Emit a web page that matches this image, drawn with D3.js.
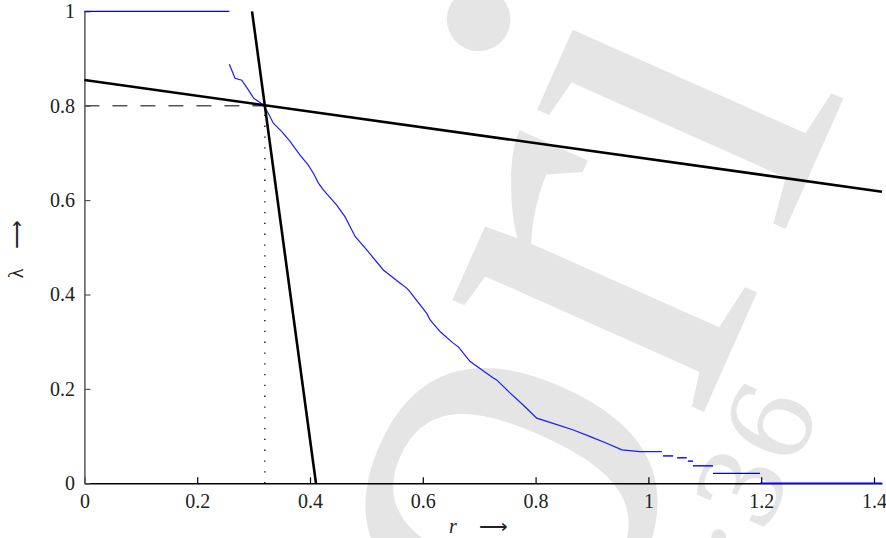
<!DOCTYPE html>
<html>
<head>
<meta charset="utf-8">
<script src="https://cdn.jsdelivr.net/npm/d3@7"></script>
<style>
  html, body { margin: 0; padding: 0; background: #fff; }
  svg { display: block; }
</style>
</head>
<body>
<svg id="chart" width="886" height="538"></svg>
<script>
// ---------- data ----------
const xTicks = [0, 0.2, 0.4, 0.6, 0.8, 1, 1.2, 1.4];
const yTicks = [0, 0.2, 0.4, 0.6, 0.8, 1];
const xMax = Math.SQRT2;

// upper flat part of the empirical curve
const topStepX = [0, 0.257];
const topStepY = 1;

// main (jagged) part of the empirical curve
const curveX = [0.257,0.267,0.279,0.291,0.300,0.317,0.326,0.335,0.350,0.365,0.382,0.397,0.406,0.415,0.424,0.447,0.462,0.480,0.501,0.530,0.560,0.572,0.577,0.607,0.613,0.631,0.654,0.663,0.684,0.725,0.731,0.755,0.778,0.802,0.831,0.867,0.897,0.926,0.953,0.985,1.024];
const curveY = [0.888,0.858,0.854,0.833,0.816,0.802,0.784,0.763,0.745,0.724,0.696,0.674,0.657,0.636,0.621,0.590,0.565,0.523,0.494,0.452,0.424,0.413,0.406,0.360,0.346,0.321,0.297,0.289,0.258,0.223,0.219,0.191,0.166,0.138,0.127,0.113,0.099,0.085,0.071,0.067,0.067];

// tail steps (horizontal pieces only)
const tailStart = [1.026, 1.051, 1.070, 1.079, 1.1145, 1.198];
const tailEnd   = [1.044, 1.068, 1.079, 1.1145, 1.198, 1.4142];
const tailY     = [0.058, 0.054, 0.047, 0.037, 0.021, 0.0];

// the two straight lines
const steepLine = { x0: 0.2972, y0: 1, x1: 0.4106, y1: 0 };
const flatLine  = { x0: 0, y0: 0.8545, x1: Math.SQRT2, y1: 0.6178 };

// operating point
const opX = 0.32, opY = 0.8;

// watermark texts
const watermarkMain = "ori";
const watermarkSmall = "2:36";

// ---------- drawing ----------
const svg = d3.select("#chart");
const x = d3.scaleLinear().domain([0, xMax]).range([84.4, 882]);
const y = d3.scaleLinear().domain([0, 1]).range([483.3, 11.3]);

// watermark
svg.append("text")
  .attr("transform", "translate(577,697) rotate(-66)")
  .attr("font-family", "Liberation Serif")
  .attr("font-size", 600)
  .attr("fill", "#e5e5e5")
  .text(watermarkMain);
svg.append("text")
  .attr("transform", "translate(822,406) rotate(-66)")
  .attr("text-anchor", "end")
  .attr("font-family", "DejaVu Serif")
  .attr("font-size", 112)
  .attr("fill", "#e5e5e5")
  .text(watermarkSmall);

const fmt = d => d3.format("~g")(d);

// axes
const xAxis = d3.axisBottom(x).tickValues(xTicks).tickFormat(fmt)
  .tickSizeInner(-6).tickSizeOuter(0).tickPadding(11);
const gx = svg.append("g").attr("transform", `translate(0,${y(0)})`).call(xAxis);
gx.select(".domain").attr("stroke", "#000").attr("stroke-width", 1.4);
gx.selectAll(".tick line").attr("stroke", "#000").attr("stroke-width", 1.2);
gx.selectAll(".tick text").attr("font-family", "Liberation Serif").attr("font-size", 20).attr("fill", "#222");

const yAxis = d3.axisLeft(y).tickValues(yTicks).tickFormat(fmt)
  .tickSizeInner(-6).tickSizeOuter(0).tickPadding(9.4);
const gy = svg.append("g").attr("transform", `translate(${x(0)},0)`).call(yAxis);
gy.select(".domain").attr("stroke", "#555").attr("stroke-width", 1.5);
gy.selectAll(".tick line").attr("stroke", "#555").attr("stroke-width", 1.2);
gy.selectAll(".tick text").attr("font-family", "Liberation Serif").attr("font-size", 20).attr("fill", "#222");

// dashed horizontal guide
svg.append("line")
  .attr("x1", x(0)).attr("y1", y(opY)).attr("x2", x(opX)).attr("y2", y(opY))
  .attr("stroke", "#555").attr("stroke-width", 1.5).attr("stroke-dasharray", "15,13");
// dotted vertical guide
svg.append("line")
  .attr("x1", x(opX)).attr("y1", y(0)).attr("x2", x(opX)).attr("y2", y(opY))
  .attr("stroke", "#000").attr("stroke-width", 1.3).attr("stroke-dasharray", "1.3,9.5");

// blue empirical curve
const line = d3.line().x(d => x(d[0])).y(d => y(d[1]));
svg.append("path")
  .datum(topStepX.map(v => [v, topStepY]))
  .attr("d", line).attr("fill", "none").attr("stroke", "#0000ff").attr("stroke-width", 1.3);
svg.append("path")
  .datum(curveX.map((v, i) => [v, curveY[i]]))
  .attr("d", line).attr("fill", "none").attr("stroke", "#1a1aff").attr("stroke-width", 1.2);
svg.selectAll("line.tail")
  .data(tailY.map((v, i) => ({ s: tailStart[i], e: tailEnd[i], v })))
  .enter().append("line").attr("class", "tail")
  .attr("x1", d => x(d.s)).attr("x2", d => x(d.e))
  .attr("y1", d => y(d.v)).attr("y2", d => y(d.v))
  .attr("stroke", "#0000ff").attr("stroke-width", 1.4);

// black lines
[steepLine, flatLine].forEach(l => {
  svg.append("line")
    .attr("x1", x(l.x0)).attr("y1", y(l.y0)).attr("x2", x(l.x1)).attr("y2", y(l.y1))
    .attr("stroke", "#000").attr("stroke-width", 2.6);
});

// axis titles
const xt = svg.append("text")
  .attr("x", 449).attr("y", 533)
  .attr("font-family", "Liberation Serif").attr("font-size", 20).attr("fill", "#222");
xt.append("tspan").attr("font-style", "italic").text("r");
xt.append("tspan").attr("dx", 22).text("⟶");

const yt = svg.append("text")
  .attr("transform", "translate(23,249) rotate(-90)")
  .attr("text-anchor", "middle")
  .attr("font-family", "Liberation Serif").attr("font-size", 20).attr("fill", "#222");
yt.append("tspan").text("λ");
yt.append("tspan").attr("dx", 20).text("⟶");
</script>
</body>
</html>
